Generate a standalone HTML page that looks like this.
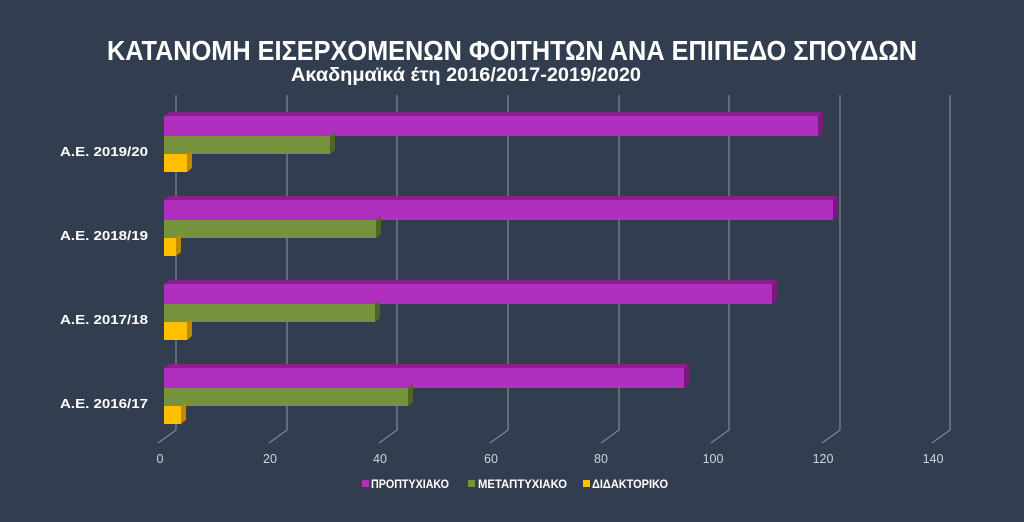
<!DOCTYPE html>
<html><head><meta charset="utf-8"><style>
body{margin:0;background:#323e4f;}
svg{display:block}
text{font-family:"Liberation Sans",sans-serif;}
</style></head><body>
<svg width="1024" height="522" viewBox="0 0 1024 522">
<rect width="1024" height="522" fill="#323e4f"/>
<text x="512" y="60" text-anchor="middle" fill="#fff" font-size="28" font-weight="bold" textLength="810" lengthAdjust="spacingAndGlyphs">ΚΑΤΑΝΟΜΗ  ΕΙΣΕΡΧΟΜΕΝΩΝ  ΦΟΙΤΗΤΩΝ  ΑΝΑ  ΕΠΙΠΕΔΟ  ΣΠΟΥΔΩΝ</text>
<text x="466" y="81" text-anchor="middle" fill="#fff" font-size="19" font-weight="bold" textLength="350" lengthAdjust="spacingAndGlyphs">Ακαδημαϊκά έτη 2016/2017-2019/2020</text>
<g stroke="#8f98a3" stroke-width="1" fill="none">
<path d="M176 95 V430 L158 443"/>
<path d="M287 95 V430 L269 443"/>
<path d="M397 95 V430 L379 443"/>
<path d="M508 95 V430 L490 443"/>
<path d="M619 95 V430 L601 443"/>
<path d="M729 95 V430 L711 443"/>
<path d="M840 95 V430 L822 443"/>
<path d="M950 95 V430 L932 443"/>
</g>
<g fill="#d0d4da" font-size="12.5" text-anchor="middle">
<text x="160" y="463">0</text><text x="270" y="463">20</text><text x="380" y="463">40</text><text x="491" y="463">60</text><text x="601" y="463">80</text><text x="713" y="463">100</text><text x="823" y="463">120</text><text x="933" y="463">140</text>
</g>
<g fill="#fff" font-size="13" font-weight="bold" text-anchor="end">
<text x="148" y="156" textLength="88" lengthAdjust="spacingAndGlyphs">Α.Ε. 2019/20</text>
<text x="148" y="240" textLength="88" lengthAdjust="spacingAndGlyphs">Α.Ε. 2018/19</text>
<text x="148" y="324" textLength="88" lengthAdjust="spacingAndGlyphs">Α.Ε. 2017/18</text>
<text x="148" y="408" textLength="88" lengthAdjust="spacingAndGlyphs">Α.Ε. 2016/17</text>
</g>
<g>
<polygon points="164,116 169,112 823,112 818,116" fill="#8a1f90"/><rect x="164" y="116" width="654" height="20" fill="#b12fbe"/><polygon points="818,116 823,112 823,132 818,136" fill="#7a1a80"/>
<rect x="164" y="136" width="166" height="18" fill="#76923c"/><polygon points="330,136 335,132 335,150 330,154" fill="#4f6628"/>
<rect x="164" y="154" width="23" height="18" fill="#ffc000"/><polygon points="187,154 192,150 192,168 187,172" fill="#c08a00"/>
<polygon points="164,200 169,196 838,196 833,200" fill="#8a1f90"/><rect x="164" y="200" width="669" height="20" fill="#b12fbe"/><polygon points="833,200 838,196 838,216 833,220" fill="#7a1a80"/>
<rect x="164" y="220" width="212" height="18" fill="#76923c"/><polygon points="376,220 381,216 381,234 376,238" fill="#4f6628"/>
<rect x="164" y="238" width="12" height="18" fill="#ffc000"/><polygon points="176,238 181,234 181,252 176,256" fill="#c08a00"/>
<polygon points="164,284 169,280 777,280 772,284" fill="#8a1f90"/><rect x="164" y="284" width="608" height="20" fill="#b12fbe"/><polygon points="772,284 777,280 777,300 772,304" fill="#7a1a80"/>
<rect x="164" y="304" width="211" height="18" fill="#76923c"/><polygon points="375,304 380,300 380,318 375,322" fill="#4f6628"/>
<rect x="164" y="322" width="23" height="18" fill="#ffc000"/><polygon points="187,322 192,318 192,336 187,340" fill="#c08a00"/>
<polygon points="164,368 169,364 689,364 684,368" fill="#8a1f90"/><rect x="164" y="368" width="520" height="20" fill="#b12fbe"/><polygon points="684,368 689,364 689,384 684,388" fill="#7a1a80"/>
<rect x="164" y="388" width="244" height="18" fill="#76923c"/><polygon points="408,388 413,384 413,402 408,406" fill="#4f6628"/>
<rect x="164" y="406" width="17" height="18" fill="#ffc000"/><polygon points="181,406 186,402 186,420 181,424" fill="#c08a00"/>
</g>
<g font-size="11.5" font-weight="bold" fill="#fff">
<rect x="362" y="480" width="7" height="7" fill="#b12fbe"/><text x="371" y="488" textLength="78" lengthAdjust="spacingAndGlyphs">ΠΡΟΠΤΥΧΙΑΚΟ</text>
<rect x="468" y="480" width="7" height="7" fill="#76923c"/><text x="478" y="488" textLength="89" lengthAdjust="spacingAndGlyphs">ΜΕΤΑΠΤΥΧΙΑΚΟ</text>
<rect x="583" y="480" width="7" height="7" fill="#ffc000"/><text x="592" y="488" textLength="76" lengthAdjust="spacingAndGlyphs">ΔΙΔΑΚΤΟΡΙΚΟ</text>
</g>
</svg>
</body></html>
